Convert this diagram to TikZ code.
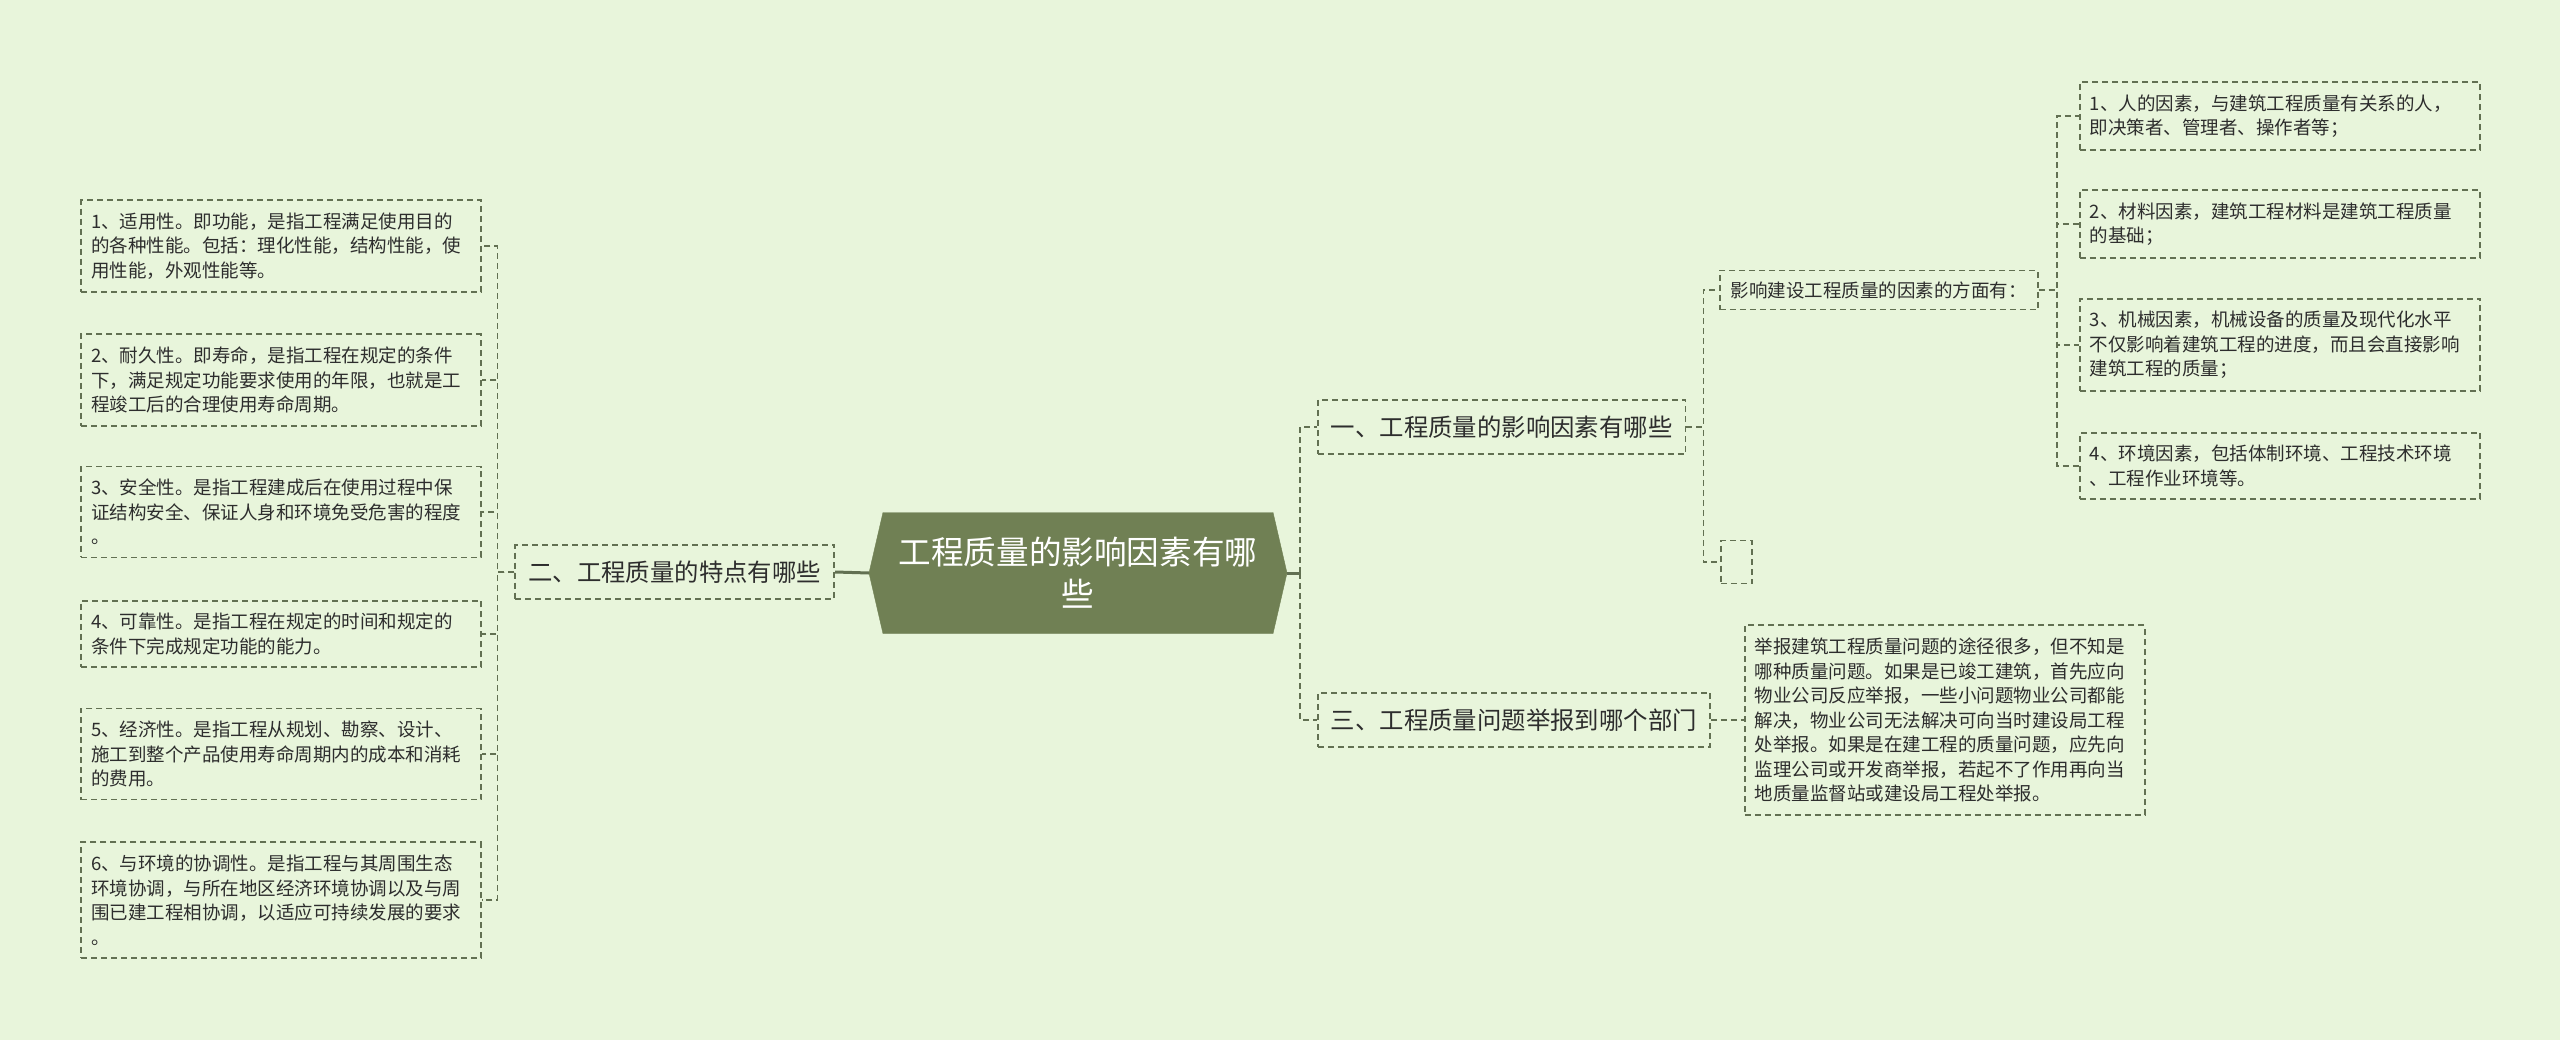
\documentclass[tikz,border=0pt]{standalone}
\usepackage{fontspec}
\setmainfont{Noto Sans CJK SC}
\usetikzlibrary{shapes.symbols}
\definecolor{bgc}{RGB}{232,245,219}
\definecolor{linkc}{RGB}{98,112,82}
\definecolor{rootc}{RGB}{112,128,84}
\definecolor{textc}{RGB}{45,45,45}
\begin{document}
\begin{tikzpicture}[
    x=1pt, y=-1pt,
    leaf/.style={rectangle, draw=linkc, line width=1.8pt, dash pattern=on 6pt off 4pt, text=textc, align=left, text width=380pt, inner xsep=10pt, inner ysep=12.5pt, font=\fontsize{18.5pt}{24.5pt}\selectfont},
    branch/.style={rectangle, draw=linkc, line width=1.8pt, dash pattern=on 6pt off 4pt, text=textc, inner xsep=13pt, inner ysep=16pt, font=\fontsize{24.4pt}{30pt}\selectfont},
    sub/.style={rectangle, draw=linkc, line width=1.8pt, dash pattern=on 6pt off 4pt, text=textc, inner xsep=11pt, inner ysep=11pt, font=\fontsize{18.5pt}{24.5pt}\selectfont},
    root/.style={signal, signal to=east and west, signal pointer angle=154, fill=rootc, draw=rootc, text=white, align=center, minimum width=418pt, minimum height=121pt, inner sep=0pt, font=\fontsize{32.6pt}{42pt}\selectfont},
    link/.style={draw=linkc, line width=1.8pt, dash pattern=on 6pt off 4pt},
    stem/.style={draw=linkc, line width=3pt}
]

% Background
\fill[bgc] (0,0) rectangle (2560,1040);

% Center
\node[root] (root) at (1078,573) {工程质量的影响因素有哪\\些};

% Left side
\node[branch, anchor=east] (two) at (835,572) {二、工程质量的特点有哪些};

\node[leaf, anchor=east] (l1) at (482,246) {1、适用性。即功能，是指工程满足使用目的\\的各种性能。包括：理化性能，结构性能，使\\用性能，外观性能等。};
\node[leaf, anchor=east] (l2) at (482,380) {2、耐久性。即寿命，是指工程在规定的条件\\下，满足规定功能要求使用的年限，也就是工\\程竣工后的合理使用寿命周期。};
\node[leaf, anchor=east] (l3) at (482,512) {3、安全性。是指工程建成后在使用过程中保\\证结构安全、保证人身和环境免受危害的程度\\。};
\node[leaf, anchor=east] (l4) at (482,634) {4、可靠性。是指工程在规定的时间和规定的\\条件下完成规定功能的能力。};
\node[leaf, anchor=east] (l5) at (482,754) {5、经济性。是指工程从规划、勘察、设计、\\施工到整个产品使用寿命周期内的成本和消耗\\的费用。};
\node[leaf, anchor=east] (l6) at (482,900) {6、与环境的协调性。是指工程与其周围生态\\环境协调，与所在地区经济环境协调以及与周\\围已建工程相协调，以适应可持续发展的要求\\。};

% Right side
\node[branch, anchor=west] (one) at (1317,427) {一、工程质量的影响因素有哪些};
\node[branch, anchor=west] (three) at (1317,720) {三、工程质量问题举报到哪个部门};

\node[sub, anchor=west] (aspects) at (1719,290) {影响建设工程质量的因素的方面有：};
\node[sub, anchor=west, minimum width=31pt, minimum height=43pt, inner sep=0pt] (blank) at (1720,562) {};

\node[leaf, anchor=west] (r1) at (2079,116) {1、人的因素，与建筑工程质量有关系的人，\\即决策者、管理者、操作者等；};
\node[leaf, anchor=west] (r2) at (2079,224) {2、材料因素，建筑工程材料是建筑工程质量\\的基础；};
\node[leaf, anchor=west] (r3) at (2079,345) {3、机械因素，机械设备的质量及现代化水平\\不仅影响着建筑工程的进度，而且会直接影响\\建筑工程的质量；};
\node[leaf, anchor=west] (r4) at (2079,466) {4、环境因素，包括体制环境、工程技术环境\\、工程作业环境等。};

\node[leaf, anchor=west] (report) at (1744,720) {举报建筑工程质量问题的途径很多，但不知是\\哪种质量问题。如果是已竣工建筑，首先应向\\物业公司反应举报，一些小问题物业公司都能\\解决，物业公司无法解决可向当时建设局工程\\处举报。如果是在建工程的质量问题，应先向\\监理公司或开发商举报，若起不了作用再向当\\地质量监督站或建设局工程处举报。};

% Connectors
\draw[stem] (root.west) -- (two.east);
\foreach \n in {l1,l2,l3,l4,l5,l6}
    \draw[link] (two.west) -- ++(-17,0) |- (\n.east);

\draw[stem] (root.east) -- ++(13,0) coordinate (rootout);
\draw[link] (rootout) |- (one.west);
\draw[link] (rootout) |- (three.west);

\draw[link] (one.east) -- ++(17,0) |- (aspects.west);
\draw[link] (one.east) -- ++(17,0) |- (blank.west);

\foreach \n in {r1,r2,r3,r4}
    \draw[link] (aspects.east) -- ++(18,0) |- (\n.west);

\draw[link] (three.east) -- (report.west);

\end{tikzpicture}
\end{document}
